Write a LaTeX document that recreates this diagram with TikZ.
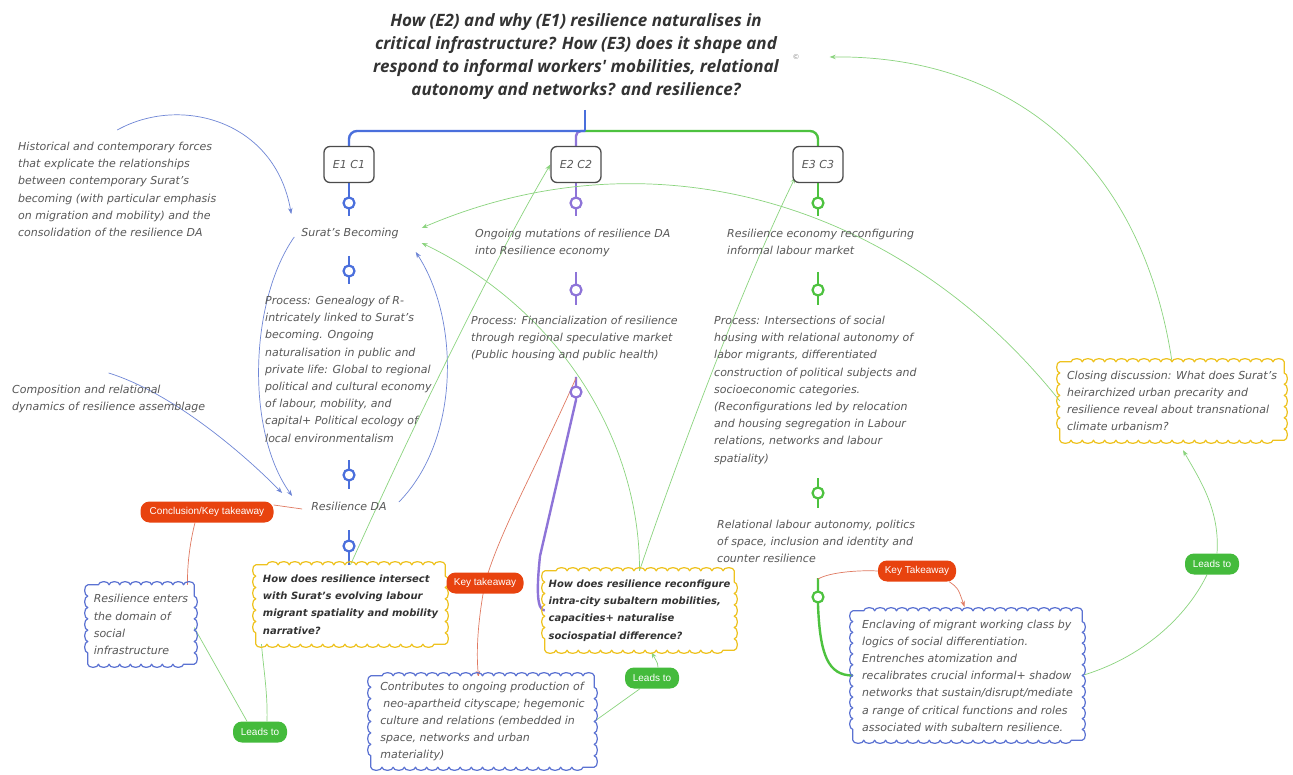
\documentclass[tikz,border=0pt]{standalone}
\usepackage{fontspec}
\setmainfont{DejaVu Sans}
\newfontfamily\titlefont{Open Sans}
\newfontfamily\pillfont{Liberation Sans}
\usetikzlibrary{decorations.pathmorphing,calc,arrows.meta}
\pgfdeclarelayer{bg}
\pgfsetlayers{bg,main}
\definecolor{cblue}{HTML}{4A6FDC}
\definecolor{cpurp}{HTML}{8E74D8}
\definecolor{cgreen}{HTML}{4DC23F}
\definecolor{lblue}{HTML}{6F86D6}
\definecolor{lgreen}{HTML}{8BD47E}
\definecolor{lred}{HTML}{E07A62}
\definecolor{pred}{HTML}{E8430F}
\definecolor{pgreen}{HTML}{44BB3C}
\definecolor{ytxt}{HTML}{333333}
\definecolor{btxt}{HTML}{585858}
\definecolor{ybord}{HTML}{EEC21E}
\definecolor{bbord}{HTML}{5B72D2}
\newcommand{\scalborder}[2]{%
  \path[draw=#2, line width=1.2pt, line cap=round, line join=round]
    let \p1=(#1.south west), \p2=(#1.north east),
        \n1={abs(\x2-\x1)}, \n2={abs(\y2-\y1)},
        \n3={2*\n1/max(1,round(\n1/11))}, \n4={2*\n2/max(1,round(\n2/11))} in
    decorate[decoration={bumps, mirror, segment length=\n3, amplitude=3.2pt}] {(\x1,\y1) -- (\x2,\y1)}
    decorate[decoration={bumps, mirror, segment length=\n4, amplitude=3.2pt}] {(\x2,\y1) -- (\x2,\y2)}
    decorate[decoration={bumps, mirror, segment length=\n3, amplitude=3.2pt}] {(\x2,\y2) -- (\x1,\y2)}
    decorate[decoration={bumps, mirror, segment length=\n4, amplitude=3.2pt}] {(\x1,\y2) -- (\x1,\y1)};}
\begin{document}
\begin{tikzpicture}[x=1pt,y=-1pt,
  titlestyle/.style={font=\titlefont\fontsize{17}{23}\selectfont\bfseries\itshape, text=ytxt, align=center, inner sep=0pt},
  txt/.style={font=\fontsize{11}{17.2}\selectfont\itshape, text=btxt, inner sep=0pt, align=left, anchor=north west},
  one/.style={font=\fontsize{11}{13}\selectfont\itshape, text=btxt, inner sep=0pt, text height=8pt, text depth=2.5pt},
  ebox/.style={draw=black!70, line width=1.3pt, rounded corners=6pt, fill=white, minimum width=50pt, minimum height=36pt, font=\fontsize{11}{13}\selectfont\itshape, text=btxt},
  dotring/.style={circle, fill=white, line width=2.2pt, inner sep=0pt, minimum size=11pt},
  conn/.style={line width=2.4pt},
  rel/.style={line width=0.7pt},
  arr/.style={-{Stealth[length=6pt,width=4.5pt]}},
  scallop/.style={fill=white, align=left, inner sep=0pt, font=\fontsize{11}{17.2}\selectfont\itshape, text=btxt},
  yscal/.style={scallop, font=\fontsize{10}{17.4}\selectfont\bfseries\itshape, text=ytxt},
  pill/.style={rounded corners=9pt, text=white, font=\pillfont\fontsize{10}{12}\selectfont, minimum height=21pt, inner xsep=4pt, inner ysep=0pt},
  rpill/.style={pill, fill=pred},
  gpill/.style={pill, fill=pgreen}]
\useasboundingbox (0,0) rectangle (1293,775);
\begin{pgfonlayer}{bg}
\fill[white] (0,0) rectangle (1293,775);
\end{pgfonlayer}

% title
\node[titlestyle] (title) at (576,57) {How (E2) and why (E1) resilience naturalises in\\critical infrastructure? How (E3) does it shape and\\respond to informal workers' mobilities, relational\\autonomy and networks? and resilience?};
\node[font=\fontsize{7}{8}\selectfont, text=black!45, inner sep=0pt] (copy) at (796,57) {©};
\coordinate (stem) at (585,110);
\coordinate (hub) at (585,131);

% E boxes
\node[ebox] (e1) at (349,164.5) {E1 C1};
\node[ebox] (e2) at (576,164.5) {E2 C2};
\node[ebox] (e3) at (818,164.5) {E3 C3};

% texts
\node[txt] (hist) at (18,142) {Historical and contemporary forces\\that explicate the relationships\\between contemporary Surat's\\becoming (with particular emphasis\\on migration and mobility) and the\\consolidation of the resilience DA};
\node[txt] (comp) at (12,385) {Composition and relational\\dynamics of resilience assemblage};
\node[one] (sb) at (350,234) {Surat's Becoming};
\node[txt] (p1) at (265,296) {Process: Genealogy of R-\\intricately linked to Surat's\\becoming. Ongoing\\naturalisation in public and\\private life: Global to regional\\political and cultural economy\\of labour, mobility, and\\capital+ Political ecology of\\local environmentalism};
\node[one] (rda) at (349,508) {Resilience DA};
\node[txt] (om) at (475,229) {Ongoing mutations of resilience DA\\into Resilience economy};
\node[txt] (pf) at (471,316) {Process: Financialization of resilience\\through regional speculative market\\(Public housing and public health)};
\node[txt] (re) at (727,229) {Resilience economy reconfiguring\\informal labour market};
\node[txt] (pi) at (714,316) {Process: Intersections of social\\housing with relational autonomy of\\labor migrants, differentiated\\construction of political subjects and\\socioeconomic categories.\\(Reconfigurations led by relocation\\and housing segregation in Labour\\relations, networks and labour\\spatiality)};
\node[txt] (rl) at (717,520) {Relational labour autonomy, politics\\of space, inclusion and identity and\\counter resilience};

% scalloped boxes
\node[yscal, minimum width=189pt, minimum height=79pt] (y1) at (350.5,604.5) {How does resilience intersect\\with Surat's evolving labour\\migrant spatiality and mobility\\narrative?};
\node[yscal, minimum width=189pt, minimum height=79pt] (y2) at (639.5,610.5) {How does resilience reconfigure\\intra-city subaltern mobilities,\\capacities+ naturalise\\sociospatial difference?};
\node[scallop, minimum width=224pt, minimum height=78pt] (closing) at (1172,401) {Closing discussion: What does Surat's\\heirarchized urban precarity and\\resilience reveal about transnational\\climate urbanism?};
\node[scallop, minimum width=106pt, minimum height=79pt] (renter) at (141,624.5) {Resilience enters\\the domain of\\social\\infrastructure};
\node[scallop, minimum width=223pt, minimum height=91pt] (contrib) at (482.5,721.5) {Contributes to ongoing production of\\\hspace{3pt}neo-apartheid cityscape; hegemonic\\culture and relations (embedded in\\space, networks and urban\\materiality)};
\node[scallop, minimum width=229pt, minimum height=129pt] (enclave) at (967.5,675.5) {Enclaving of migrant working class by\\logics of social differentiation.\\Entrenches atomization and\\recalibrates crucial informal+ shadow\\networks that sustain/disrupt/mediate\\a range of critical functions and roles\\associated with subaltern resilience.};
\scalborder{y1}{ybord}
\scalborder{y2}{ybord}
\scalborder{closing}{ybord}
\scalborder{renter}{bbord}
\scalborder{contrib}{bbord}
\scalborder{enclave}{bbord}

% pills
\node[rpill, minimum width=133pt] (ckt) at (207,512) {Conclusion/Key takeaway};
\node[rpill, minimum width=77pt] (kt2) at (485,583) {Key takeaway};
\node[rpill, minimum width=78pt] (kt3) at (917,571) {Key Takeaway};
\node[gpill, minimum width=54pt] (lt1) at (260,732) {Leads to};
\node[gpill, minimum width=54pt] (lt2) at (652,678) {Leads to};
\node[gpill, minimum width=54pt] (lt3) at (1212,564) {Leads to};

% markers
\node[dotring, draw=cblue] (mk1) at (349,203) {};
\node[dotring, draw=cblue] (mk2) at (349,271) {};
\node[dotring, draw=cblue] (mk3) at (349,475) {};
\node[dotring, draw=cblue] (mk4) at (349,546) {};
\node[dotring, draw=cpurp] (mk5) at (576,203) {};
\node[dotring, draw=cpurp] (mk6) at (576,290) {};
\node[dotring, draw=cpurp] (mk7) at (576,392) {};
\node[dotring, draw=cgreen] (mk8) at (818,203) {};
\node[dotring, draw=cgreen] (mk9) at (818,290) {};
\node[dotring, draw=cgreen] (mk10) at (818,493) {};
\node[dotring, draw=cgreen] (mk11) at (818,597) {};

\begin{pgfonlayer}{bg}
% tree branches
\draw[conn,cgreen,rounded corners=8pt] (hub) -| (e3.north);
\draw[conn,cpurp,rounded corners=5pt] (hub) -| (e2.north);
\draw[conn,cblue,rounded corners=8pt] (hub) -| (e1.north);
\draw[conn,cblue] (stem) -- (hub);
% column stubs
\draw[conn,cblue] (e1.south) -- ($(mk1)+(0,13)$);
\draw[conn,cblue] ($(mk2)+(0,-15)$) -- ($(mk2)+(0,13)$);
\draw[conn,cblue] ($(mk3)+(0,-15)$) -- ($(mk3)+(0,14)$);
\draw[conn,cblue] ($(mk4)+(0,-16)$) -- (y1.north -| mk4);
\draw[conn,cpurp] (e2.south) -- ($(mk5)+(0,13)$);
\draw[conn,cpurp] ($(mk6)+(0,-18)$) -- ($(mk6)+(0,15)$);
\draw[conn,cpurp] ($(mk7)+(0,-15)$) -- ($(mk7)+(0,8)$) -- (540,556) .. controls (537,585) and (536,610.5) .. (y2.west);
\draw[conn,cgreen] (e3.south) -- ($(mk8)+(0,13)$);
\draw[conn,cgreen] ($(mk9)+(0,-18)$) -- ($(mk9)+(0,15)$);
\draw[conn,cgreen] ($(mk10)+(0,-15)$) -- ($(mk10)+(0,15)$);
\draw[conn,cgreen] ($(mk11)+(0,-19)$) -- ($(mk11)+(0,8)$) .. controls (820,655) and (828,675.5) .. (enclave.west);

% blue relations
\draw[rel,lblue,arr] ($(hist.north)+(0,-12)$) .. controls (180,95) and (275,120) .. ($(sb.west)+(-10,-20)$);
\draw[rel,lblue,arr] ($(comp.north)+(0,-12)$) .. controls (170,392) and (240,450) .. ($(rda.west)+(-29,-15)$);
\draw[rel,lblue,arr] ($(sb.west)+(-7,3)$) .. controls (250,300) and (245,430) .. ($(rda.west)+(-19,-12)$);
\draw[rel,lblue,arr] ($(rda.east)+(12,-6)$) .. controls (460,440) and (460,320) .. ($(sb.east)+(17,18)$);

% green relations
\draw[rel,lgreen,arr] (y1.north) .. controls (420,410) and (500,250) .. (e2.west);
\draw[rel,lgreen,arr] (y2.north) .. controls (670,480) and (740,290) .. ($(e3.south west)+(3,-6)$);
\draw[rel,lgreen,arr] (y2.north) .. controls (640,440) and (560,310) .. ($(sb.east)+(23,9)$);
\draw[rel,lgreen,arr] (closing.west) .. controls (900,200) and (650,130) .. ($(sb.east)+(23,-6)$);
\draw[rel,lgreen,arr] (closing.north) .. controls (1140,150) and (1000,55) .. ($(copy.east)+(30,0)$);
\draw[rel,lgreen] ($(renter.east)+(0,3)$) -- ($(lt1.north)+(-13,0)$);
\draw[rel,lgreen,arr] ($(lt1.north)+(7,0)$) .. controls (268,690) and (262,660) .. ($(y1.south west)+(5,-12)$);
\draw[rel,lgreen] (contrib.east) -- ($(lt2.south)+(-12,0)$);
\draw[rel,lgreen,arr] ($(lt2.north)+(6,0)$) .. controls (658,664) .. ($(y2.south)+(12,2)$);
\draw[rel,lgreen] (enclave.east) .. controls (1150,655) and (1190,610) .. ($(lt3.south)+(-5,0)$);
\draw[rel,lgreen,arr] ($(lt3.north)+(5,0)$) .. controls (1220,510) and (1200,480) .. ($(closing.south)+(11,10)$);

% red relations
\draw[rel,lred] ($(rda.west)+(-9,1)$) -- ($(ckt.east)+(0,-7)$);
\draw[rel,lred,arr] ($(ckt.south)+(-12,0)$) .. controls (188,550) and (186,580) .. ($(renter.north east)+(-5,15)$);
\draw[rel,lred] ($(mk7)+(0,-14)$) .. controls (540,460) and (500,530) .. (kt2.center);
\draw[rel,lred,arr] (kt2.center) .. controls (478,620) and (476,650) .. ($(contrib.north)+(-4,1)$);
\draw[rel,lred] ($(mk11)+(0,-18)$) .. controls (830,572) and (860,570) .. (kt3.west);
\draw[rel,lred,arr] ($(kt3.south east)+(-7,0)$) .. controls (958,588) .. ($(enclave.north)+(-3,-4)$);
\end{pgfonlayer}
\end{tikzpicture}
\end{document}
